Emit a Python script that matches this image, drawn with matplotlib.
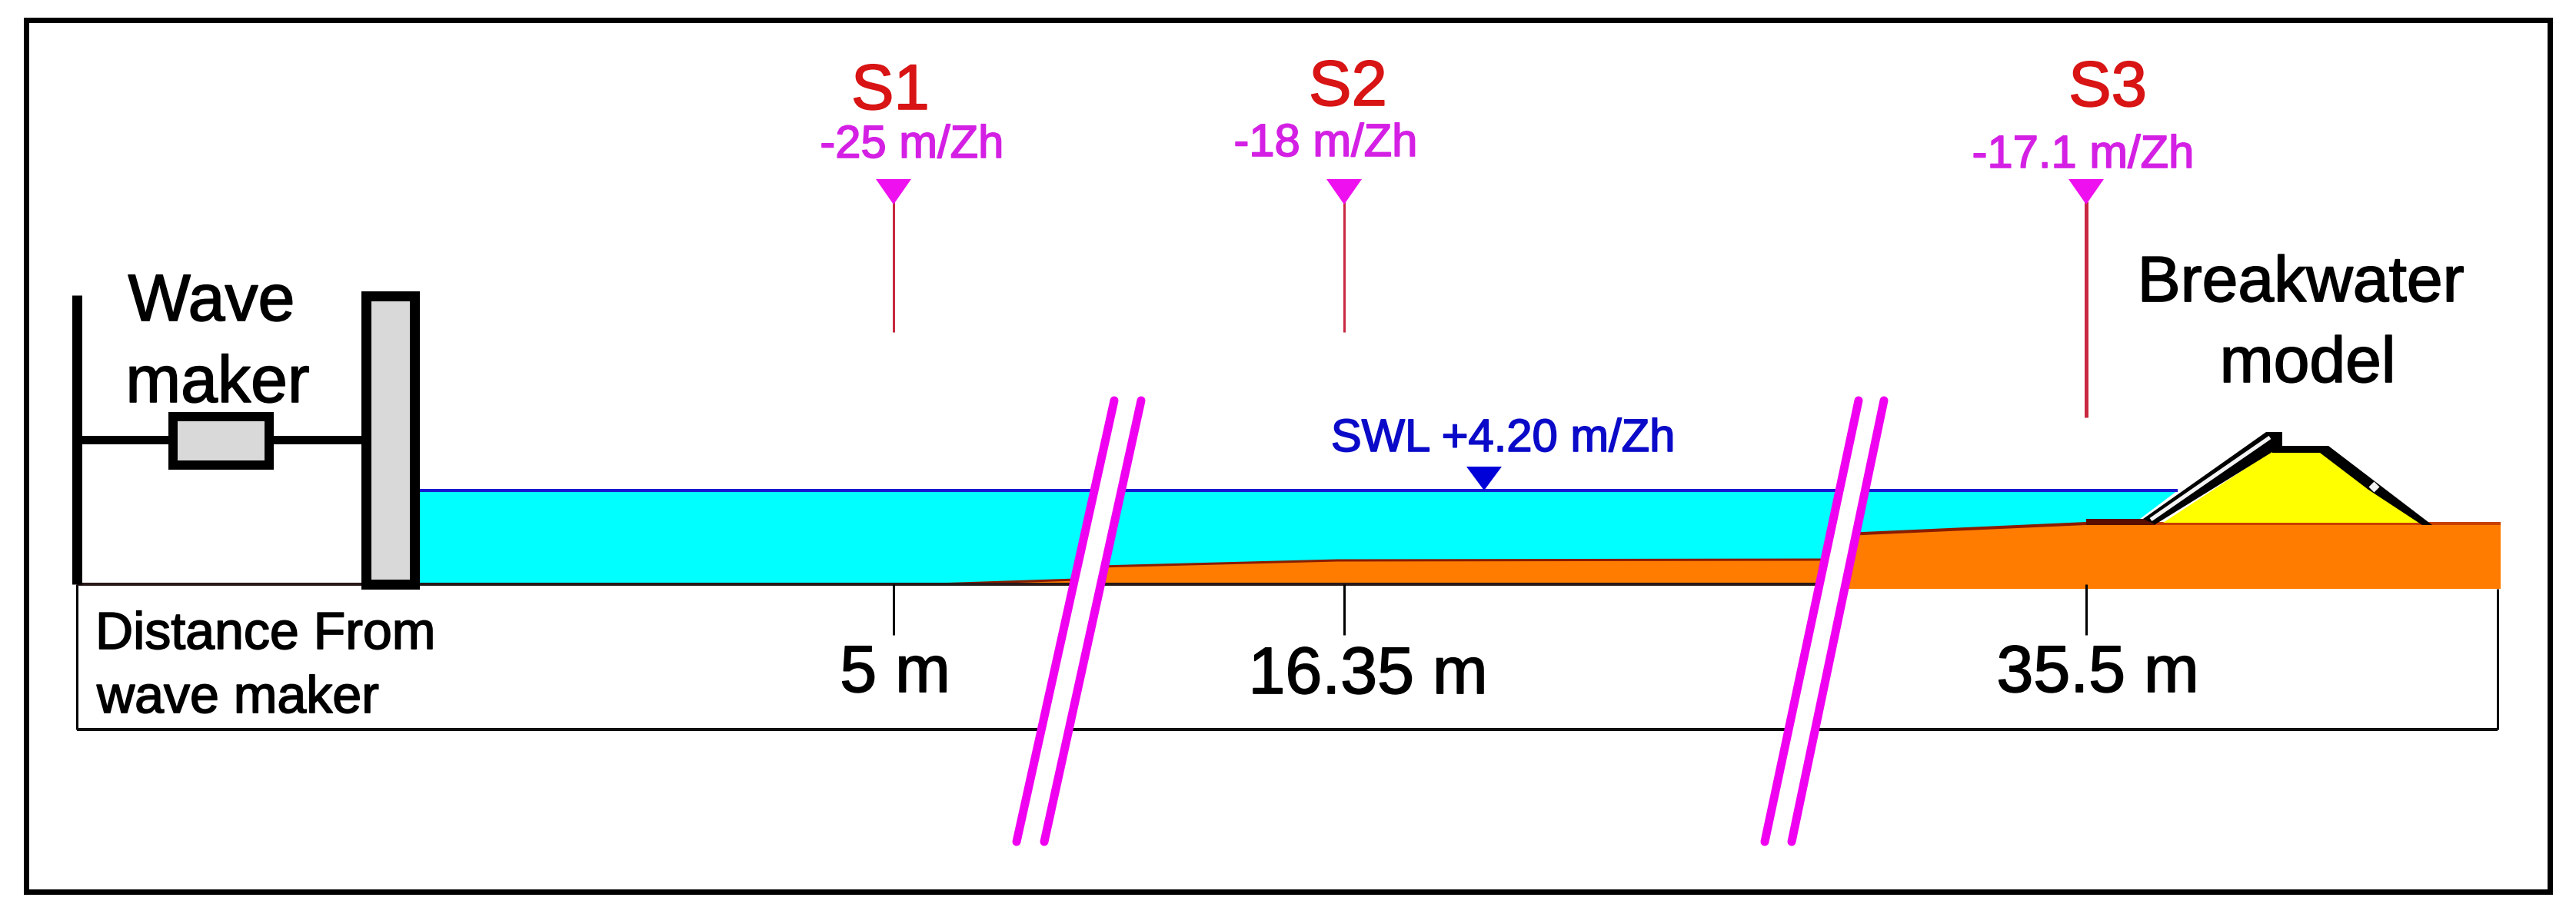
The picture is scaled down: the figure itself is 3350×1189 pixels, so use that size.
import matplotlib
matplotlib.use("Agg")
import matplotlib.pyplot as plt
import matplotlib.patheffects as pe
from matplotlib.patches import Polygon, Rectangle

plt.rcParams['font.family'] = ['Liberation Sans', 'DejaVu Sans']

W, H = 3350, 1189

# stations
station_names = ["S1", "S2", "S3"]
station_levels = ["-25 m/Zh", "-18 m/Zh", "-17.1 m/Zh"]
station_distances = ["5 m", "16.35 m", "35.5 m"]
station_x = [1162, 1748, 2713]
name_x = [1158, 1753, 2741]
name_base = [142, 137, 138]
level_x = [1186, 1724, 2709]
level_base = [205, 203, 218]
dist_x = [1164, 1779, 2728]
dist_base = [900, 902, 900]
probe_bottom = [432, 432, 543]
probe_width = [3, 3, 5]

# profile
swl_label = "SWL +4.20 m/Zh"
swl_y = 638
bed_y = 760
tank_left, tank_right = 100, 3248
box_bottom = 949
bed_left_x = [1217, 1400]
bed_left_y = [760, 754]
bed_mid_x = [1430, 1739, 2372]
bed_mid_y = [737, 729, 728]
bed_right_x = [2395, 2423, 2713, 3252]
bed_right_y = [695, 694, 681, 681]
core_x = [2813, 2953, 3017, 3147]
core_y = [680, 588, 588, 680]
armour_x = [2787, 2947, 2968, 2968, 2955, 2803]
armour_y = [675, 562, 562, 588, 588, 682]
armour_in_x = [2797, 2952]
armour_in_y = [676, 569]
crest_x = [2955, 3028, 3163, 3150, 3080, 3017, 2955]
crest_y = [580, 580, 683, 683, 637, 589, 589]
# break marks: top x, bottom x of each pair
break_top = [(1449, 1484), (2417, 2450)]
break_bottom = [(1322, 1358), (2295, 2330)]
break_y = (521, 1095)

BLACK, ORANGE, CYAN = "#000000", "#ff7c00", "#00ffff"
MAGENTA, TEXTM, RED, BLUE = "#f000f0", "#d420e4", "#d81414", "#0000d8"
DARK = "#8a1c00"

px = 0.72  # points per pixel at dpi 100
fig = plt.figure(figsize=(W / 100, H / 100), dpi=100, facecolor="white")
ax = fig.add_axes([0, 0, 1, 1])
ax.set_xlim(0, W)
ax.set_ylim(H, 0)
ax.axis("off")

# outer frame
ax.add_patch(Rectangle((34, 26), 3282, 1134, fill=False, ec=BLACK, lw=7 * px, zorder=10))


def line(xs, ys, c=BLACK, w=3, z=3, cap="butt"):
    ax.plot(xs, ys, color=c, lw=w * px, solid_capstyle=cap, solid_joinstyle="miter", zorder=z)


def label(x, y, s, size, c=BLACK, ha="center", bold=1.2):
    t = ax.text(x, y, s, color=c, fontsize=size, ha=ha, va="baseline", zorder=8)
    t.set_path_effects([pe.withStroke(linewidth=bold, foreground=c)])


# water
ax.add_patch(Polygon([(545, swl_y), (2832, swl_y), (2775, 681), (2775, bed_y), (545, bed_y)], fc=CYAN, ec="none", zorder=1))
line([545, 2832], [swl_y, swl_y], "#1a1ad0", 4, 2)

# bed
ax.add_patch(Polygon(list(zip(bed_left_x, bed_left_y)) + [(bed_left_x[-1], bed_y)], fc=ORANGE, ec="none", zorder=2))
ax.add_patch(Polygon(list(zip(bed_mid_x, bed_mid_y)) + [(bed_mid_x[-1], bed_y), (bed_mid_x[0], bed_y)], fc=ORANGE, ec="none", zorder=2))
ax.add_patch(Polygon(list(zip(bed_right_x, bed_right_y)) + [(bed_right_x[-1], 766), (bed_right_x[0], 766)], fc=ORANGE, ec="none", zorder=2))
line(bed_left_x, bed_left_y, DARK, 3, 3)
line(bed_mid_x, bed_mid_y, DARK, 3, 3)
line(bed_right_x[:3], bed_right_y[:3], DARK, 4, 3)
line(bed_right_x[2:], bed_right_y[2:], "#c84000", 4, 3)
line([2713, 2803], [679, 679], "#5a0e00", 8, 4)
line([tank_left, 2372], [bed_y, bed_y], "#281818", 4, 3)

# breakwater
ax.add_patch(Polygon(list(zip(core_x, core_y)), fc="#ffff00", ec="none", zorder=3))
ax.add_patch(Polygon(list(zip(armour_x, armour_y)), fc=BLACK, ec="none", zorder=4))
line(armour_in_x, armour_in_y, "#f4f4f4", 5, 5)
ax.add_patch(Polygon(list(zip(crest_x, crest_y)), fc=BLACK, ec="none", zorder=4))
ax.plot([3087], [633], marker="D", ms=7, mfc="#f4f4f4", mec="none", zorder=5)

# lower scale box
line([tank_left, tank_left], [bed_y, box_bottom], BLACK, 3, 2)
line([tank_left, tank_right], [box_bottom, box_bottom], "#101010", 4, 2)
line([tank_right, tank_right], [766, box_bottom], BLACK, 3, 2)

# wave maker
line([100, 100], [384, 760], BLACK, 13, 6)
line([100, 470], [572, 572], BLACK, 11, 6)
ax.add_patch(Rectangle((225, 542), 125, 63, fc="#d9d9d9", ec=BLACK, lw=12 * px, zorder=7))
ax.add_patch(Rectangle((476, 385), 63, 375, fc="#d9d9d9", ec=BLACK, lw=13 * px, zorder=7))

# stations
for i in range(3):
    line([station_x[i]] * 2, [262, probe_bottom[i]], "#c82840", probe_width[i], 3)
    ax.add_patch(Polygon([(station_x[i] - 23, 233), (station_x[i] + 23, 233), (station_x[i], 266)], fc="#ee10ee", ec="none", zorder=4))
    line([station_x[i]] * 2, [bed_y, 826], BLACK, 3, 3)
    label(name_x[i], name_base[i], station_names[i], 60, RED)
    label(level_x[i], level_base[i], station_levels[i], 43, TEXTM)
    label(dist_x[i], dist_base[i], station_distances[i], 62)

# still-water level
ax.add_patch(Polygon([(1907, 607), (1953, 607), (1930, 638)], fc=BLUE, ec="none", zorder=4))
label(1955, 587, swl_label, 43, "#0a0ac8")

# break marks
for (t0, t1), (b0, b1) in zip(break_top, break_bottom):
    ax.add_patch(Polygon([(t0, break_y[0]), (t1, break_y[0]), (b1, break_y[1]), (b0, break_y[1])], fc="white", ec="none", zorder=8))
    line([t0, b0], break_y, MAGENTA, 11, 9, "round")
    line([t1, b1], break_y, MAGENTA, 11, 9, "round")

# labels
label(275, 417, "Wave", 62)
label(283, 523, "maker", 62)
label(124, 844, "Distance From", 49, ha="left")
label(126, 927, "wave maker", 49, ha="left")
label(2992, 392, "Breakwater", 60.5)
label(3001, 497, "model", 60.5)

fig.savefig("out.png", dpi=100, facecolor="white")
